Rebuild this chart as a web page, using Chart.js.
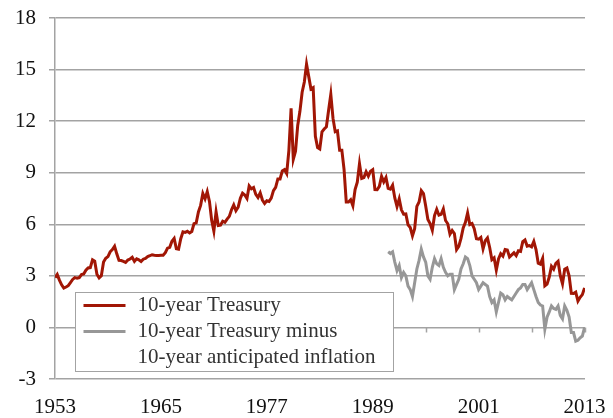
<!DOCTYPE html>
<html>
<head>
<meta charset="utf-8">
<script src="https://cdn.jsdelivr.net/npm/chart.js@4.4.1/dist/chart.umd.min.js"></script>
<style>
  html, body { margin: 0; padding: 0; background: #fff; }
  #wrap { width: 613px; height: 418px; }
</style>
</head>
<body>
<div id="wrap"><canvas id="chart"></canvas></div>
<script>
// quarterly values, first one is April 1953
const treasuryStart = 1953.25
const treasuryRates = [
  2.90, 3.08, 2.75,
  2.48, 2.29, 2.35, 2.43,  2.61, 2.79, 2.90, 2.87,  2.90, 3.07, 3.11, 3.33,
  3.46, 3.48, 3.93, 3.85,  3.09, 2.88, 3.00, 3.80,  4.02, 4.12, 4.40, 4.53,
  4.72, 4.28, 3.90, 3.89,  3.84, 3.78, 3.92, 3.98,  4.08, 3.84, 3.99, 3.93,
  3.83, 3.97, 4.02, 4.12,  4.17, 4.23, 4.20, 4.19,  4.19, 4.20, 4.20, 4.35,
  4.61, 4.66, 5.02, 5.18,  4.58, 4.55, 5.16, 5.56,  5.53, 5.59, 5.50, 5.58,
  6.04, 6.08, 6.72, 7.10,  7.79, 7.48, 7.90, 7.33,  6.24, 5.60, 6.73, 5.93,
  5.95, 6.18, 6.11, 6.30,  6.46, 6.85, 7.13, 6.79,  6.99, 7.51, 7.81, 7.70,
  7.50, 8.23, 8.06, 8.14,  7.74, 7.56, 7.83, 7.41,  7.21, 7.37, 7.33, 7.52,
  7.96, 8.15, 8.64, 8.64,  9.10, 9.18, 8.95, 10.30, 12.75, 9.78, 10.25, 11.75,
  12.57, 13.68, 14.28, 15.32, 14.59, 13.87, 13.95, 11.12, 10.46, 10.38, 11.38, 11.54,
  11.67, 12.63, 13.56, 12.16, 11.38, 11.43, 10.31, 10.31, 9.19, 7.30, 7.30, 7.43,
  7.08, 8.02, 8.45, 9.52,  8.67, 8.72, 9.06, 8.80,  9.09, 9.18, 8.02, 8.01,
  8.21, 8.79, 8.47, 8.72,  8.09, 8.04, 8.27, 7.53,  7.03, 7.48, 6.84, 6.59,
  6.60, 5.97, 5.81, 5.33,  5.75, 7.04, 7.30, 7.96,  7.78, 7.06, 6.28, 6.04,
  5.65, 6.51, 6.87, 6.53,  6.58, 6.89, 6.22, 6.03,  5.42, 5.64, 5.46, 4.53,
  4.72, 5.18, 5.79, 6.11,  6.66, 5.99, 6.05, 5.74,  5.16, 5.14, 5.24, 4.57,
  5.04, 5.21, 4.65, 3.94,  4.05, 3.33, 3.98, 4.29,  4.15, 4.53, 4.50, 4.10,
  4.22, 4.34, 4.18, 4.46,  4.42, 4.99, 5.09, 4.73,  4.76, 4.69, 5.00, 4.53,
  3.74, 3.68, 4.01, 2.42,  2.52, 2.93, 3.56, 3.39,  3.73, 3.85, 3.01, 2.54,
  3.39, 3.46, 3.00, 1.98,  1.97, 2.05, 1.53, 1.75,  1.91, 2.30
]

// treasury minus anticipated inflation, quarterly from 1991
const realStart = 1991.0
const realRates = [
  4.4, 4.3, 4.4, 3.8,  3.3, 3.6, 2.9, 3.2,  3.0, 2.4, 2.2, 1.8,
  2.6, 3.4, 3.9, 4.55, 4.1, 3.8, 3.0, 2.8,  3.5, 4.0, 3.7, 3.6,
  4.0, 3.5, 3.2, 3.0,  3.1, 3.1, 2.2, 2.5,  2.8, 3.4, 3.7, 4.1,
  4.0, 3.6, 3.0, 2.8,  2.6, 2.2, 2.4, 2.6,  2.5, 2.4, 1.8, 1.45,
  1.6, 0.9, 1.45, 2.0, 1.9, 1.6, 1.8, 1.7,  1.6, 1.8, 2.0, 2.2,
  2.3, 2.5, 2.5, 2.2,  2.4, 2.6, 2.2, 1.8,  1.45, 1.3, 1.25, -0.1,
  0.6, 0.9, 1.25, 1.1, 1.05, 1.25, 0.7, 0.5, 1.25, 1.0, 0.6, -0.3,
  -0.3, -0.8, -0.75, -0.6, -0.5, 0.0
]

const yearLabels = [1953, 1965, 1977, 1989, 2001, 2013]
const minorTickYears = [1959, 1965, 1971, 1977, 1983, 1989, 1995, 2001, 2007, 2013]
const legendLabels = [['10-year Treasury'], ['10-year Treasury minus', '10-year anticipated inflation']]

const RED = '#a11605'
const GREY = '#979797'
const GRID = '#a3a3a3'
const FONT = '"Liberation Serif", "Times New Roman", serif'

const toPoints = (start, values) => values.map((v, i) => ({ x: start + i * 0.25, y: v }))

// little tick marks sitting on the zero line
const zeroTicks = {
  id: 'zeroTicks',
  beforeDatasetsDraw(chart) {
    const { ctx, scales } = chart
    const y0 = Math.round(scales.y.getPixelForValue(0)) + 0.5
    ctx.save()
    ctx.strokeStyle = GRID
    ctx.lineWidth = 1.5
    minorTickYears.forEach(yr => {
      const x = Math.round(scales.x.getPixelForValue(yr + 0.25)) + 0.5
      ctx.beginPath()
      ctx.moveTo(x, y0)
      ctx.lineTo(x, y0 + 5)
      ctx.stroke()
    })
    ctx.restore()
  }
}

const boxLegend = {
  id: 'boxLegend',
  afterDatasetsDraw(chart) {
    const { ctx } = chart
    const left = 75.5, top = 292.5, w = 318, h = 79
    ctx.save()
    ctx.fillStyle = '#fff'
    ctx.fillRect(left, top, w, h)
    ctx.strokeStyle = GRID
    ctx.lineWidth = 1
    ctx.strokeRect(left, top, w, h)
    ctx.font = '21px ' + FONT
    ctx.fillStyle = '#333'
    ctx.textBaseline = 'middle'
    const colors = [RED, GREY]
    let row = 0
    legendLabels.forEach((lines, i) => {
      const y = top + 13 + row * 26
      ctx.strokeStyle = colors[i]
      ctx.lineWidth = 3
      ctx.beginPath()
      ctx.moveTo(left + 8, y)
      ctx.lineTo(left + 50, y)
      ctx.stroke()
      lines.forEach(line => {
        ctx.fillText(line, left + 62, top + 13 + row * 26)
        row++
      })
    })
    ctx.restore()
  }
}

new Chart(document.getElementById('chart'), {
  type: 'line',
  data: {
    datasets: [
      {
        label: '10-year Treasury',
        data: toPoints(treasuryStart, treasuryRates),
        borderColor: RED,
        borderWidth: 3,
        pointRadius: 0,
        tension: 0
      },
      {
        label: '10-year Treasury minus 10-year anticipated inflation',
        data: toPoints(realStart, realRates),
        borderColor: GREY,
        borderWidth: 3,
        pointRadius: 0,
        tension: 0
      }
    ]
  },
  options: {
    responsive: true,
    maintainAspectRatio: false,
    animation: false,
    layout: { padding: { top: 18, right: 28, left: 0, bottom: 0 } },
    plugins: {
      legend: { display: false },
      tooltip: { enabled: false }
    },
    scales: {
      x: {
        type: 'linear',
        min: 1953.25,
        max: 2013.3,
        grid: { display: false },
        border: { display: false },
        afterBuildTicks: (scale) => {
          scale.ticks = yearLabels.map(y => ({ value: y + 0.25 }))
        },
        afterFit: (scale) => {
          scale.height = 39
          scale.paddingLeft = 0
          scale.paddingRight = 0
        },
        ticks: {
          autoSkip: false,
          maxRotation: 0,
          padding: 8,
          color: '#111',
          font: { family: FONT, size: 21 },
          callback: (v) => Math.floor(v)
        }
      },
      y: {
        min: -3,
        max: 18,
        grid: { color: GRID, lineWidth: 1.5, tickLength: 6 },
        border: { color: GRID, width: 1.5 },
        afterFit: (scale) => {
          scale.width = 55
          scale.paddingTop = 0
          scale.paddingBottom = 0
        },
        ticks: {
          stepSize: 3,
          padding: 13,
          color: '#111',
          font: { family: FONT, size: 21 }
        }
      }
    }
  },
  plugins: [zeroTicks, boxLegend]
})
</script>
</body>
</html>
